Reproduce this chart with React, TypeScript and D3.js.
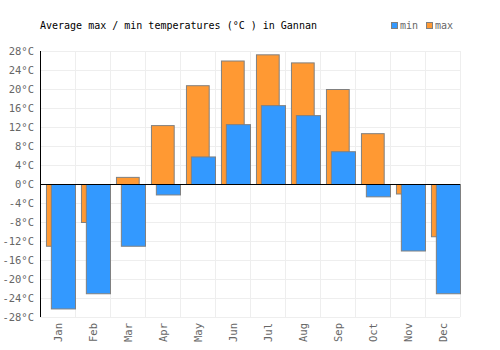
import * as d3 from "d3";
import { useEffect, useRef } from "react";

const months = ["Jan", "Feb", "Mar", "Apr", "May", "Jun", "Jul", "Aug", "Sep", "Oct", "Nov", "Dec"];
const maxTemps = [-13, -8, 1.5, 12.4, 20.8, 26, 27.3, 25.6, 20, 10.7, -2, -11];
const minTemps = [-26.2, -23, -13, -2.2, 5.8, 12.6, 16.6, 14.5, 6.9, -2.6, -14, -23];
const yTicks = d3.range(-28, 29, 4);

const width = 500;
const height = 350;
const margin = { top: 51, right: 40, bottom: 33, left: 40 };
const font = "'DejaVu Sans Mono', monospace";

export default function App() {
  const ref = useRef<SVGSVGElement>(null);

  useEffect(() => {
    if (!ref.current) return;
    const svg = d3.select(ref.current);
    svg.selectAll("*").remove();

    const innerW = width - margin.left - margin.right;
    const innerH = height - margin.top - margin.bottom;

    const x = d3.scaleBand().domain(months).range([0, innerW]);
    const y = d3.scaleLinear().domain([-28, 28]).range([innerH, 0]);

    const g = svg.append("g").attr("transform", `translate(${margin.left},${margin.top})`);

    // grid
    g.selectAll("line.h")
      .data(yTicks)
      .join("line")
      .attr("x1", 0)
      .attr("x2", innerW)
      .attr("y1", (d) => y(d) + 0.5)
      .attr("y2", (d) => y(d) + 0.5)
      .attr("stroke", "#eeeeee");

    g.selectAll("line.v")
      .data(d3.range(months.length + 1))
      .join("line")
      .attr("x1", (i) => i * x.bandwidth() + 0.5)
      .attr("x2", (i) => i * x.bandwidth() + 0.5)
      .attr("y1", 0)
      .attr("y2", innerH)
      .attr("stroke", "#eeeeee");

    const band = x.bandwidth();

    // max bars
    g.selectAll("rect.max")
      .data(maxTemps)
      .join("rect")
      .attr("x", (_, i) => (x(months[i]) ?? 0) + band * 0.17 + 0.5)
      .attr("width", band * 0.65)
      .attr("y", (d) => y(Math.max(d, 0)) + 0.5)
      .attr("height", (d) => Math.abs(y(d) - y(0)))
      .attr("fill", "#ff9933")
      .attr("stroke", "#808080")
      .attr("stroke-width", 1);

    // min bars
    g.selectAll("rect.min")
      .data(minTemps)
      .join("rect")
      .attr("x", (_, i) => (x(months[i]) ?? 0) + band * 0.31 + 0.5)
      .attr("width", band * 0.69)
      .attr("y", (d) => y(Math.max(d, 0)) + 0.5)
      .attr("height", (d) => Math.abs(y(d) - y(0)))
      .attr("fill", "#3399ff")
      .attr("stroke", "#808080")
      .attr("stroke-width", 1);

    // zero line and left axis
    g.append("line")
      .attr("x1", 0)
      .attr("x2", innerW)
      .attr("y1", y(0) + 0.5)
      .attr("y2", y(0) + 0.5)
      .attr("stroke", "#000");
    g.append("line")
      .attr("x1", 0.5)
      .attr("x2", 0.5)
      .attr("y1", 0)
      .attr("y2", innerH)
      .attr("stroke", "#000");

    // y labels
    g.selectAll("text.y")
      .data(yTicks)
      .join("text")
      .attr("x", -6)
      .attr("y", (d) => y(d) + 4)
      .attr("text-anchor", "end")
      .attr("font-family", font)
      .attr("font-size", 10.5)
      .attr("fill", "#666")
      .text((d) => `${d}°C`);

    // x labels
    g.selectAll("text.x")
      .data(months)
      .join("text")
      .attr("transform", (d) => `translate(${(x(d) ?? 0) + band / 2 + 4},${innerH + 6}) rotate(-90)`)
      .attr("text-anchor", "end")
      .attr("font-family", font)
      .attr("font-size", 10.5)
      .attr("fill", "#666")
      .text((d) => d);

    // title
    svg.append("text")
      .attr("x", 40)
      .attr("y", 29)
      .attr("font-family", font)
      .attr("font-size", 10)
      .attr("fill", "#000")
      .text("Average max / min temperatures (°C ) in Gannan");

    // legend
    const legend = [
      { label: "min", color: "#3399ff", x: 391 },
      { label: "max", color: "#ff9933", x: 426 },
    ];
    const lg = svg.append("g");
    lg.selectAll("rect")
      .data(legend)
      .join("rect")
      .attr("x", (d) => d.x + 0.5)
      .attr("y", 22.5)
      .attr("width", 6)
      .attr("height", 6)
      .attr("fill", (d) => d.color)
      .attr("stroke", "#808080");
    lg.selectAll("text")
      .data(legend)
      .join("text")
      .attr("x", (d) => d.x + 9)
      .attr("y", 29)
      .attr("font-family", font)
      .attr("font-size", 10)
      .attr("fill", "#666")
      .text((d) => d.label);
  }, []);

  return (
    <svg
      ref={ref}
      width={width}
      height={height}
      style={{ position: "absolute", left: 0, top: 0, background: "#fff" }}
    />
  );
}
